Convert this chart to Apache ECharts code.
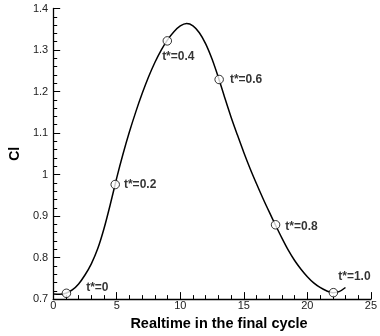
<!DOCTYPE html>
<html><head><meta charset="utf-8">
<script src="https://cdn.jsdelivr.net/npm/echarts@6/dist/echarts.min.js"></script>
<style>html,body{margin:0;padding:0;background:#fff}#c{width:380px;height:336px}</style>
</head><body><div id="c"></div>
<script>
// Curve (Realtime in the final cycle, Cl)
const curveX = [0, 0.5, 1, 1.5, 2, 2.5, 3, 3.5, 4, 4.5, 5, 5.5, 6, 6.5, 7, 7.5, 8, 8.5, 9, 9.5, 10, 10.5, 11, 11.5, 12, 12.5, 13, 13.5, 14, 14.5, 15, 15.5, 16, 16.5, 17, 17.5, 18, 18.5, 19, 19.5, 20, 20.5, 21, 21.5, 22, 22.5, 23];
const curveY = [0.7125, 0.7118, 0.714, 0.722, 0.7365, 0.758, 0.785, 0.821, 0.870, 0.929, 0.992, 1.050, 1.103, 1.151, 1.195, 1.235, 1.270, 1.300, 1.3245, 1.344, 1.358, 1.364, 1.3584, 1.3417, 1.3149, 1.2782, 1.2337, 1.1852, 1.1382, 1.095, 1.0532, 1.014, 0.9777, 0.943, 0.910, 0.878, 0.847, 0.818, 0.793, 0.772, 0.754, 0.739, 0.728, 0.720, 0.7155, 0.718, 0.728];
// Marked phases
const markX = [1.04, 4.88, 8.98, 13.06, 17.5, 22.05];
const markY = [0.714, 0.976, 1.322, 1.229, 0.879, 0.7155];
const markLabels = ['t*=0', 't*=0.2', 't*=0.4', 't*=0.6', 't*=0.8', 't*=1.0'];
// Axis ticks
const xMin = 0, xMax = 25, xStep = 5;
const yMin = 0.7, yMax = 1.4, yStep = 0.1;

const labelStyle = [
  {position: 'right', offset: [11, -6]},
  {position: 'right', offset: [0, 0]},
  {position: 'bottom', offset: [11, 1]},
  {position: 'right', offset: [2, 0]},
  {position: 'right', offset: [1, 2]},
  {position: 'top', offset: [21, -1]}
];

const FONT = 'Liberation Sans, Arial, Helvetica, sans-serif';
const chart = echarts.init(document.getElementById('c'));
const axisCommon = {
  axisLine: {lineStyle: {color: '#000', width: 1.3}},
  axisTick: {inside: true, length: 7, lineStyle: {color: '#000', width: 1}},
  minorTick: {show: true, splitNumber: 5, length: 4, lineStyle: {color: '#000', width: 1}},
  splitLine: {show: false},
  minorSplitLine: {show: false},
  axisLabel: {color: '#222', fontFamily: FONT, fontSize: 11},
  nameTextStyle: {color: '#000', fontFamily: FONT, fontWeight: 'bold'}
};
chart.setOption({
  animation: false,
  grid: {left: 47.5, right: 7.5, top: 8.5, bottom: 34.5},
  xAxis: Object.assign({}, axisCommon, {
    type: 'value', min: xMin, max: xMax, interval: xStep,
    name: 'Realtime in the final cycle', nameLocation: 'middle', nameGap: 14,
    axisLabel: Object.assign({}, axisCommon.axisLabel, {margin: 1}),
    nameTextStyle: Object.assign({}, axisCommon.nameTextStyle, {fontSize: 14.5, padding: [0, 0, 0, 14]})
  }),
  yAxis: Object.assign({}, axisCommon, {
    type: 'value', min: yMin, max: yMax, interval: yStep,
    name: 'Cl', nameLocation: 'middle', nameGap: 24, nameRotate: 90,
    axisLabel: Object.assign({}, axisCommon.axisLabel, {margin: 5}),
    nameTextStyle: Object.assign({}, axisCommon.nameTextStyle, {fontSize: 14})
  }),
  series: [
    {
      type: 'line', smooth: 0.3, showSymbol: false,
      data: curveX.map((x, i) => [x, curveY[i]]),
      lineStyle: {color: '#000', width: 1.5}
    },
    {
      type: 'scatter', symbol: 'circle', symbolSize: 8.5,
      itemStyle: {color: '#fff', borderColor: '#000', borderWidth: 1},
      data: markX.map((x, i) => ({
        value: [x, markY[i]],
        label: Object.assign({
          show: true, formatter: markLabels[i], color: '#000',
          fontFamily: FONT, fontWeight: 'bold', fontSize: 12, distance: 4
        }, labelStyle[i])
      })),
      z: 5
    }
  ]
});
</script></body></html>
